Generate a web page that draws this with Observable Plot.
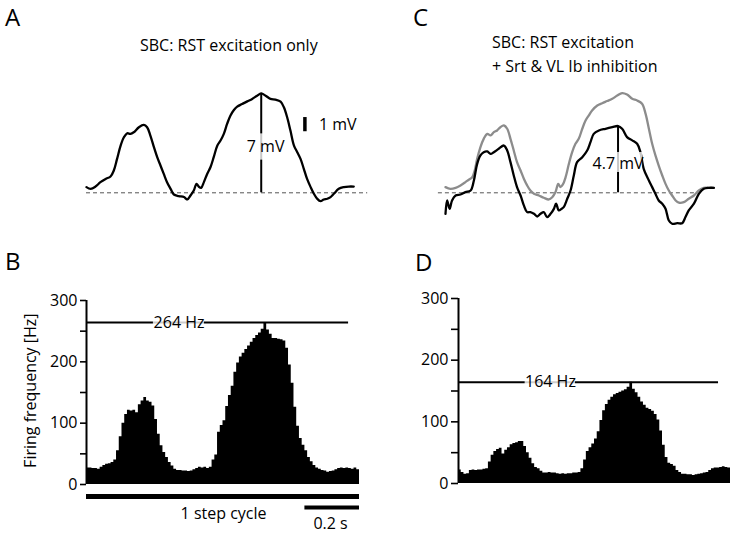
<!DOCTYPE html>
<html>
<head>
<meta charset="utf-8">
<script src="https://cdn.jsdelivr.net/npm/d3@7"></script>
<script src="https://cdn.jsdelivr.net/npm/@observablehq/plot@0.6"></script>
<style>
  body { margin: 0; background: #fff; }
  #fig { position: relative; width: 735px; height: 534px; background: #fff; overflow: hidden; font-family: "Open Sans", sans-serif; }
  .panel { position: absolute; }
  .panel svg { overflow: visible; }
</style>
</head>
<body>
<div id="fig"></div>
<script>
// ---------- DATA ----------
// Panel A: membrane potential (mV relative to baseline) vs time in step cycle (s)
const tA = [0.000,0.015,0.033,0.051,0.070,0.088,0.100,0.112,0.125,0.137,0.149,0.161,0.173,0.192,0.210,0.222,0.234,0.247,0.259,0.271,0.283,0.295,0.308,0.320,0.338,0.357,0.369,0.381,0.393,0.403,0.411,0.420,0.430,0.442,0.454,0.466,0.479,0.491,0.503,0.515,0.527,0.540,0.552,0.570,0.589,0.607,0.625,0.640,0.656,0.674,0.692,0.711,0.723,0.735,0.747,0.760,0.772,0.784,0.796,0.808,0.821,0.833,0.845,0.857,0.869,0.882,0.894,0.906,0.924,0.943,0.961,0.979];
const vA = [0.40,0.28,0.44,0.75,0.98,1.15,1.57,2.39,3.32,3.91,4.19,4.15,4.26,4.62,4.78,4.62,4.03,3.21,2.51,1.92,1.33,0.75,0.28,-0.12,-0.23,-0.30,-0.47,-0.19,0.16,0.63,0.44,0.35,0.75,1.33,1.80,2.51,3.32,3.68,4.15,4.85,5.43,5.83,6.07,6.25,6.44,6.61,6.84,7.00,6.84,6.61,6.56,6.42,6.02,5.32,4.38,3.32,2.86,2.39,1.69,0.98,0.40,-0.07,-0.42,-0.59,-0.47,-0.42,-0.30,-0.07,0.28,0.40,0.44,0.44];

// Panel C: gray = RST excitation only, black = with Srt & VL Ib inhibition
const tCgray = [0.000,0.018,0.037,0.055,0.073,0.085,0.098,0.107,0.116,0.128,0.140,0.153,0.165,0.177,0.189,0.201,0.214,0.226,0.238,0.250,0.262,0.275,0.287,0.299,0.311,0.324,0.342,0.360,0.379,0.391,0.403,0.413,0.421,0.430,0.440,0.452,0.464,0.476,0.488,0.501,0.513,0.525,0.537,0.556,0.574,0.592,0.611,0.629,0.647,0.665,0.684,0.702,0.720,0.733,0.745,0.757,0.769,0.781,0.794,0.806,0.818,0.830,0.843,0.855,0.873,0.891,0.910,0.928,0.946,0.965,0.983];
const vCgray = [0.40,0.28,0.35,0.52,0.75,0.92,1.10,1.57,2.39,3.22,3.80,4.15,4.04,4.27,4.39,4.62,4.74,4.51,3.80,2.98,2.16,1.57,0.99,0.52,0.16,-0.07,-0.19,-0.35,-0.47,-0.31,0.05,0.63,0.40,0.59,1.10,2.04,2.86,3.45,3.80,4.51,5.09,5.45,5.80,6.15,6.31,6.46,6.62,6.85,7.02,6.92,6.62,6.50,6.27,5.56,4.51,3.45,2.63,1.92,1.22,0.63,0.16,-0.19,-0.54,-0.70,-0.66,-0.42,-0.19,0.16,0.35,0.35,0.35];
const tCblack = [0.000,0.006,0.015,0.024,0.037,0.055,0.073,0.092,0.104,0.116,0.128,0.140,0.153,0.165,0.177,0.195,0.214,0.226,0.238,0.250,0.262,0.275,0.287,0.299,0.311,0.324,0.336,0.348,0.360,0.372,0.385,0.397,0.405,0.415,0.425,0.433,0.446,0.458,0.470,0.482,0.501,0.519,0.531,0.543,0.562,0.586,0.611,0.632,0.647,0.665,0.684,0.702,0.714,0.726,0.745,0.757,0.769,0.781,0.794,0.806,0.818,0.830,0.849,0.867,0.879,0.891,0.910,0.928,0.946,0.965,0.983];
const vCblack = [-1.48,-0.54,-1.13,-0.54,-0.19,-0.12,0.05,0.16,0.87,2.04,2.63,2.86,2.91,2.74,2.86,3.10,3.33,2.98,2.16,1.22,0.40,-0.19,-0.89,-1.36,-1.36,-1.48,-1.67,-1.48,-1.36,-1.71,-1.48,-1.13,-0.77,-1.24,-1.13,-1.01,-0.42,0.16,1.22,2.16,2.51,2.98,3.57,4.15,4.39,4.51,4.62,4.70,4.51,3.92,3.69,3.45,2.86,1.69,0.87,0.40,-0.07,-0.54,-0.77,-1.13,-1.95,-2.18,-2.14,-2.14,-1.71,-1.24,-0.77,-0.07,0.28,0.35,0.35];

// Panels B, D: firing frequency (Hz), 0.01 s bins over 1 step cycle
const binWidth = 0.01;
const rateB = [27,27,26,26,25,28,31,33,34,36, 40,55,78,100,114,121,120,121,117,130, 136,142,136,134,128,106,82,63,52,44, 36,30,25,23,23,22,22,21,22,24, 26,28,27,28,26,28,40,48,85,96, 104,127,145,160,183,198,208,214,220,226, 232,238,243,247,253,264,252,245,238,238, 237,236,234,222,195,165,126,95,75,64, 55,44,37,31,27,25,23,22,20,21, 22,24,26,27,26,27,26,25,27,24];
const rateD = [22,18,15,16,21,22,21,22,22,23, 24,35,46,52,55,57,48,54,58,63, 65,66,68,68,60,50,41,32,26,24, 20,17,17,18,17,17,16,15,16,15, 16,16,17,17,18,24,38,52,58,64, 72,84,102,118,128,135,140,144,146,148, 150,152,156,164,153,147,140,132,127,122, 120,117,112,103,85,62,42,33,31,28, 21,18,15,15,14,14,13,14,15,16, 17,18,21,24,25,25,26,27,26,25];

// Annotations
const peakA = {t: 0.640, v: 7.0, label: "7 mV"};
const peakC = {t: 0.632, v: 4.7, label: "4.7 mV"};
const peakB = {r: 264, label: "264 Hz"};
const peakD = {r: 164, label: "164 Hz"};
const yTicks = [0, 50, 100, 150, 200, 250, 300];
const yLabel = "Firing frequency [Hz]";
const scaleBarMV = {t: 0.8, v1: 4.3, v2: 5.3, label: "1 mV"};
const stepCycle = {t1: 0, t2: 1, label: "1 step cycle"};
const timeBar = {t1: 0.8, t2: 1.0, label: "0.2 s"};

// ---------- HELPERS ----------
const fig = document.getElementById("fig");
function place(node, left, top) {
  const d = document.createElement("div");
  d.className = "panel";
  d.style.left = left + "px";
  d.style.top = top + "px";
  d.appendChild(node);
  fig.appendChild(d);
}
const style = {fontFamily: "'Open Sans', sans-serif", fontSize: "16px", background: "transparent", color: "black"};
const trace = (ts, vs) => ts.map((t, i) => ({t, v: vs[i]}));
const hist = (rates) => {
  const h = rates.map((r, i) => ({t: i * binWidth, r}));
  h.push({t: rates.length * binWidth, r: rates[rates.length - 1]});
  return h;
};

// ---------- PANEL A ----------
const plotA = Plot.plot({
  width: 367, height: 225,
  marginLeft: 86, marginRight: 8, marginTop: 78.7, marginBottom: 18.5,
  x: {domain: [0, 1], axis: null},
  y: {domain: [-1, 8], axis: null},
  style,
  marks: [
    Plot.ruleY([0], {x1: 0, x2: 1.03, stroke: "#555", strokeWidth: 1, strokeDasharray: "4,3"}),
    Plot.line(trace(tA, vA), {x: "t", y: "v", stroke: "black", strokeWidth: 2.3, curve: "catmull-rom"}),
    Plot.ruleX([peakA], {x: "t", y1: 0, y2: "v", stroke: "black", strokeWidth: 2}),
    Plot.rect([peakA], {x1: d => d.t - 0.05, x2: d => d.t + 0.08, y1: 2.3, y2: 4.15, fill: "white", fillOpacity: 0.78}),
    Plot.text([peakA], {x: d => d.t + 0.016, y: 3.2, text: "label", fontSize: 16, fill: "black"}),
    Plot.ruleX([scaleBarMV], {x: "t", y1: "v1", y2: "v2", stroke: "black", strokeWidth: 3.5}),
    Plot.text([scaleBarMV], {x: "t", y: d => (d.v1 + d.v2) / 2, text: "label", textAnchor: "start", dx: 14, fontSize: 16, fill: "black"})
  ]
});
place(plotA, 0, 0);

// ---------- PANEL C ----------
const plotC = Plot.plot({
  width: 368, height: 225,
  marginLeft: 78, marginRight: 17, marginTop: 78.7, marginBottom: 18.5,
  x: {domain: [0, 1], axis: null},
  y: {domain: [-1, 8], axis: null},
  style,
  marks: [
    Plot.ruleY([0], {x1: -0.026, x2: 0.927, stroke: "#555", strokeWidth: 1, strokeDasharray: "4,3"}),
    Plot.line(trace(tCgray, vCgray), {x: "t", y: "v", stroke: "#8c8c8c", strokeWidth: 2.3, curve: "catmull-rom"}),
    Plot.line(trace(tCblack, vCblack), {x: "t", y: "v", stroke: "black", strokeWidth: 2.3, curve: "catmull-rom"}),
    Plot.ruleX([peakC], {x: "t", y1: 0, y2: "v", stroke: "black", strokeWidth: 2}),
    Plot.rect([peakC], {x1: d => d.t - 0.09, x2: d => d.t + 0.09, y1: 1.43, y2: 2.84, fill: "white", fillOpacity: 0.78}),
    Plot.text([peakC], {x: "t", y: 2.06, text: "label", fontSize: 16, fill: "black"})
  ]
});
place(plotC, 367, 0);

// ---------- PANEL B ----------
const plotB = Plot.plot({
  width: 367, height: 304,
  marginLeft: 86, marginRight: 8, marginTop: 70, marginBottom: 50,
  x: {domain: [0, 1], axis: null},
  y: {domain: [0, 300], axis: null},
  style,
  marks: [
    Plot.areaY(hist(rateB), {x: "t", y: "r", curve: "step-after", fill: "black"}),
    Plot.ruleX([0], {y1: 0, y2: 300, stroke: "black", strokeWidth: 2}),
    Plot.axisY({ticks: yTicks, tickSize: 6, tickPadding: 3, strokeWidth: 1.6, fontSize: 16, label: null,
      tickFormat: d => d % 100 === 0 ? String(d) : ""}),
    Plot.text([yLabel], {x: 0, y: 153, text: d => d, rotate: -90, dx: -56, fontSize: 16, fill: "black"}),
    Plot.ruleY([peakB], {y: "r", x1: 0, x2: 0.96, stroke: "black", strokeWidth: 2}),
    Plot.rect([peakB], {x1: 0.245, x2: 0.432, y1: d => d.r - 9, y2: d => d.r + 9, fill: "white", fillOpacity: 0.8}),
    Plot.text([peakB], {x: 0.339, y: "r", text: "label", fontSize: 16, fill: "black"}),
    Plot.ruleY([stepCycle], {y: 0, x1: "t1", x2: "t2", dy: 12, stroke: "black", strokeWidth: 5}),
    Plot.text([stepCycle], {x: 0.502, y: 0, dy: 29, text: "label", fontSize: 16, fill: "black"}),
    Plot.ruleY([timeBar], {y: 0, x1: "t1", x2: "t2", dy: 23, stroke: "black", strokeWidth: 4}),
    Plot.text([timeBar], {x: 0.894, y: 0, dy: 39, text: "label", fontSize: 16, fill: "black"})
  ]
});
place(plotB, 0, 230);

// ---------- PANEL D ----------
const plotD = Plot.plot({
  width: 368, height: 304,
  marginLeft: 91, marginRight: 5, marginTop: 68, marginBottom: 51,
  x: {domain: [0, 1], axis: null},
  y: {domain: [0, 300], axis: null},
  style,
  marks: [
    Plot.areaY(hist(rateD), {x: "t", y: "r", curve: "step-after", fill: "black"}),
    Plot.ruleX([0], {y1: 0, y2: 300, stroke: "black", strokeWidth: 2}),
    Plot.axisY({ticks: yTicks, tickSize: 7, tickPadding: 3, strokeWidth: 1.6, fontSize: 16, label: null,
      tickFormat: d => d % 100 === 0 ? String(d) : ""}),
    Plot.ruleY([peakD], {y: "r", x1: 0, x2: 0.956, stroke: "black", strokeWidth: 2}),
    Plot.rect([peakD], {x1: 0.245, x2: 0.43, y1: d => d.r - 9, y2: d => d.r + 9, fill: "white", fillOpacity: 0.8}),
    Plot.text([peakD], {x: 0.338, y: "r", text: "label", fontSize: 16, fill: "black"})
  ]
});
place(plotD, 367, 230);

// ---------- PANEL LETTERS AND TITLES ----------
const labels = [
  {text: "A", x: 5, y: 26, size: 24},
  {text: "B", x: 5, y: 270, size: 24},
  {text: "C", x: 413, y: 26, size: 24},
  {text: "D", x: 415, y: 271, size: 24},
  {text: "SBC: RST excitation only", x: 140, y: 50.5, size: 16},
  {text: "SBC: RST excitation", x: 492, y: 48, size: 16},
  {text: "+ Srt & VL Ib inhibition", x: 492, y: 71.5, size: 16}
];
const overlay = d3.create("svg").attr("width", 735).attr("height", 534)
  .style("position", "absolute").style("left", "0px").style("top", "0px");
overlay.selectAll("text").data(labels).join("text")
  .attr("x", d => d.x).attr("y", d => d.y)
  .attr("font-family", "'Open Sans', sans-serif")
  .attr("font-size", d => d.size)
  .attr("fill", "black")
  .text(d => d.text);
fig.appendChild(overlay.node());
</script>
</body>
</html>
